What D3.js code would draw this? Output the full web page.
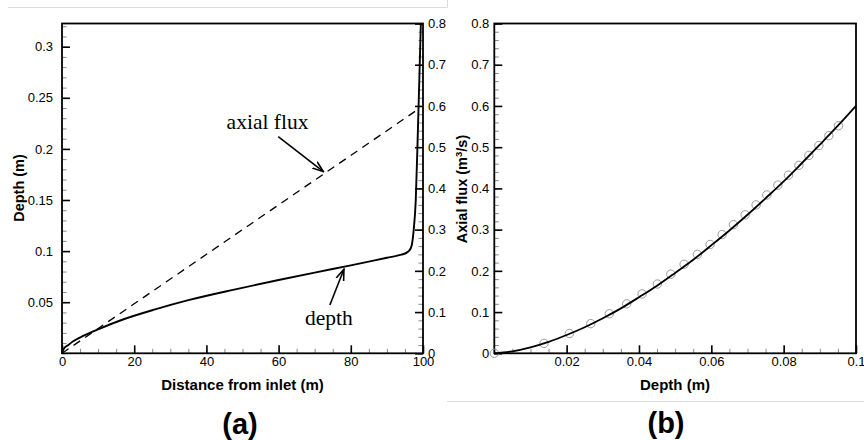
<!DOCTYPE html>
<html><head><meta charset="utf-8">
<script src="https://cdn.jsdelivr.net/npm/d3@7"></script>
<style>
body{margin:0;background:#fff}
svg{display:block}
text{font-family:"Liberation Sans",Arial,Helvetica,sans-serif;fill:#000}
</style>
</head><body>
<svg id="c" width="864" height="440"></svg>
<script>
// ---------- DATA ----------
// Panel (a): water depth along the channel (left axis)
const distanceA = [0,0.5,1.75,3,5.45,10,16.5,25.8,35,48,60,70,80,90,94,95.5,96.3,96.9,97.4,98,98.6,99,99.4];
const depthA    = [0,0.0045,0.0081,0.0115,0.0163,0.0235,0.0326,0.043,0.052,0.0626,0.0717,0.079,0.086,0.0935,0.0965,0.0985,0.101,0.106,0.12,0.15,0.22,0.27,0.3222];
// Panel (a): axial flux along the channel (right axis, dashed)
const distanceFlux = [0, 99];
const axialFluxA   = [0, 0.594];
// Panel (b): axial flux vs depth (solid curve)
const depthB = [0,0.005,0.01,0.015,0.02,0.025,0.03,0.035,0.04,0.045,0.05,0.055,0.06,0.065,0.07,0.075,0.08,0.085,0.09,0.095,0.1];
const fluxB  = [0,0.0046,0.0143,0.0277,0.0444,0.0632,0.085,0.109,0.136,0.164,0.195,0.227,0.262,0.298,0.336,0.376,0.417,0.461,0.506,0.552,0.6];
// Panel (b): circle markers
const obsDepth = [0,0.01375,0.02075,0.02667,0.0318,0.0366,0.04086,0.04509,0.0488,0.05248,0.05615,0.05967,0.06299,0.06611,0.06935,0.07239,0.07535,0.0784,0.08133,0.0842,0.08697,0.08974,0.0925,0.09516];
const obsFlux  = [0,0.024,0.048,0.072,0.096,0.12,0.144,0.168,0.192,0.216,0.24,0.264,0.288,0.312,0.336,0.36,0.384,0.408,0.432,0.456,0.48,0.504,0.528,0.552];
// Tick labels
const ticksDistA   = [0,20,40,60,80,100];
const ticksDepthA  = [0.05,0.1,0.15,0.2,0.25,0.3];
const ticksFluxA   = [0,0.1,0.2,0.3,0.4,0.5,0.6,0.7,0.8];
const ticksDepthB  = [0.02,0.04,0.06,0.08,0.1];
const ticksFluxB   = [0,0.1,0.2,0.3,0.4,0.5,0.6,0.7,0.8];
// Annotations
const annotText  = ["axial flux","depth"];

// ---------- SCALES ----------
const svg = d3.select("#c");
const T = 23.5, B = 353.3;
const xA  = d3.scaleLinear([0,100],[62,423]);
const yA  = d3.scaleLinear([0,0.3227],[B,T]);
const yA2 = d3.scaleLinear([0,0.8],[B,T]);
const xB  = d3.scaleLinear([0,0.1],[494.3,856]);
const yB  = d3.scaleLinear([0,0.8],[B,T]);
const fmt = v => String(+v.toFixed(4));
const range = (a,b,s) => d3.range(Math.round(a/s), Math.round(b/s)+1).map(i => +(i*s).toFixed(6));

// light frame lines (figure edges)
svg.append("path").attr("d","M8,7.5H447.5V0").attr("fill","none").attr("stroke","#dcdcdc");
svg.append("path").attr("d","M447,401.5H864").attr("fill","none").attr("stroke","#dcdcdc");

function minor(axisFn, scale, vals, tx, ty){
  const g = svg.append("g").attr("transform",`translate(${tx},${ty})`)
    .call(axisFn(scale).tickValues(vals).tickSizeInner(-4.5).tickSizeOuter(0).tickFormat(""));
  g.select(".domain").remove();
  g.selectAll("line").attr("stroke","#888").attr("stroke-width",1);
}
function major(axisFn, scale, vals, tx, ty, pad, format){
  const g = svg.append("g").attr("transform",`translate(${tx},${ty})`)
    .call(axisFn(scale).tickValues(vals).tickSizeInner(-8).tickSizeOuter(0).tickPadding(pad).tickFormat(format||fmt));
  g.select(".domain").remove();
  g.selectAll("line").attr("stroke","#000").attr("stroke-width",1.6);
  g.selectAll("text").style("font-size","13px").attr("fill","#222");
  return g;
}

// ---------- PANEL (a) ----------
minor(d3.axisBottom, xA, range(0,100,5), 0, B);
minor(d3.axisLeft, yA, range(0,0.32,0.01), 62, 0);
minor(d3.axisRight, yA2, range(0,0.8,0.02), 423, 0);
major(d3.axisBottom, xA, ticksDistA, 0, B, 3);
major(d3.axisLeft, yA, ticksDepthA, 62, 0, 9);
major(d3.axisRight, yA2, ticksFluxA, 423, 0, 5);
svg.append("rect").attr("x",xA(0)).attr("y",T).attr("width",xA(100)-xA(0)).attr("height",B-T)
  .attr("fill","none").attr("stroke","#000").attr("stroke-width",1.8);

svg.append("path").datum(d3.zip(distanceFlux, axialFluxA))
  .attr("d", d3.line().x(d=>xA(d[0])).y(d=>yA2(d[1])))
  .attr("fill","none").attr("stroke","#000").attr("stroke-width",1.3).attr("stroke-dasharray","8,6");
svg.append("path").datum(d3.zip(distanceA, depthA))
  .attr("d", d3.line().x(d=>xA(d[0])).y(d=>yA(d[1])).curve(d3.curveMonotoneX))
  .attr("fill","none").attr("stroke","#000").attr("stroke-width",1.9);

svg.append("defs").append("marker").attr("id","arr").attr("viewBox","0 0 12 10")
  .attr("refX",11).attr("refY",5).attr("markerWidth",12).attr("markerHeight",10)
  .attr("markerUnits","userSpaceOnUse").attr("orient","auto")
  .append("path").attr("d","M0,1 L11,5 L0,9").attr("fill","none").attr("stroke","#000").attr("stroke-width",1.6);

const serif = '"Liberation Serif","Times New Roman",serif';
svg.append("text").attr("x",xA(45.6)).attr("y",yA2(0.5434)).text(annotText[0])
  .style("font-family",serif).style("font-size","21.5px");
svg.append("line").attr("x1",xA(59.9)).attr("y1",yA2(0.5255)).attr("x2",xA(72.4)).attr("y2",yA2(0.4406))
  .attr("stroke","#000").attr("stroke-width",1.6).attr("marker-end","url(#arr)");
svg.append("text").attr("x",xA(67.3)).attr("y",yA(0.0277)).text(annotText[1])
  .style("font-family",serif).style("font-size","21.5px");
svg.append("line").attr("x1",xA(74.2)).attr("y1",yA(0.0472)).attr("x2",xA(78.1)).attr("y2",yA(0.0822))
  .attr("stroke","#000").attr("stroke-width",1.6).attr("marker-end","url(#arr)");

svg.append("text").attr("x",242.5).attr("y",390).attr("text-anchor","middle")
  .style("font-size","15px").style("font-weight","bold").text("Distance from inlet (m)");
svg.append("text").attr("transform","translate(24,188) rotate(-90)").attr("text-anchor","middle")
  .style("font-size","14.5px").style("font-weight","bold").text("Depth (m)");
svg.append("text").attr("x",240).attr("y",434).attr("text-anchor","middle")
  .style("font-size","29px").style("font-weight","bold").text("(a)");

// ---------- PANEL (b) ----------
minor(d3.axisBottom, xB, range(0,0.1,0.005), 0, B);
minor(d3.axisLeft, yB, range(0,0.8,0.02), 494.3, 0);
major(d3.axisBottom, xB, ticksDepthB, 0, B, 3);
major(d3.axisLeft, yB, ticksFluxB, 494.3, 0, 5);
svg.append("rect").attr("x",xB(0)).attr("y",T).attr("width",xB(0.1)-xB(0)).attr("height",B-T)
  .attr("fill","none").attr("stroke","#000").attr("stroke-width",1.8);

svg.append("g").selectAll("circle").data(d3.zip(obsDepth, obsFlux)).join("circle")
  .attr("cx",d=>xB(d[0])).attr("cy",d=>yB(d[1])).attr("r",4.2)
  .attr("fill","none").attr("stroke","#999").attr("stroke-width",1);
svg.append("path").datum(d3.zip(depthB, fluxB))
  .attr("d", d3.line().x(d=>xB(d[0])).y(d=>yB(d[1])).curve(d3.curveMonotoneX))
  .attr("fill","none").attr("stroke","#000").attr("stroke-width",1.8);

svg.append("text").attr("x",675).attr("y",390).attr("text-anchor","middle")
  .style("font-size","15px").style("font-weight","bold").text("Depth (m)");
const yl = svg.append("text").attr("transform","translate(467,189) rotate(-90)").attr("text-anchor","middle")
  .style("font-size","14.5px").style("font-weight","bold");
yl.append("tspan").text("Axial flux (m");
yl.append("tspan").attr("dy","-5").style("font-size","9.5px").text("3");
yl.append("tspan").attr("dy","5").text("/s)");
svg.append("text").attr("x",666).attr("y",433).attr("text-anchor","middle")
  .style("font-size","29px").style("font-weight","bold").text("(b)");
</script>
</body></html>
